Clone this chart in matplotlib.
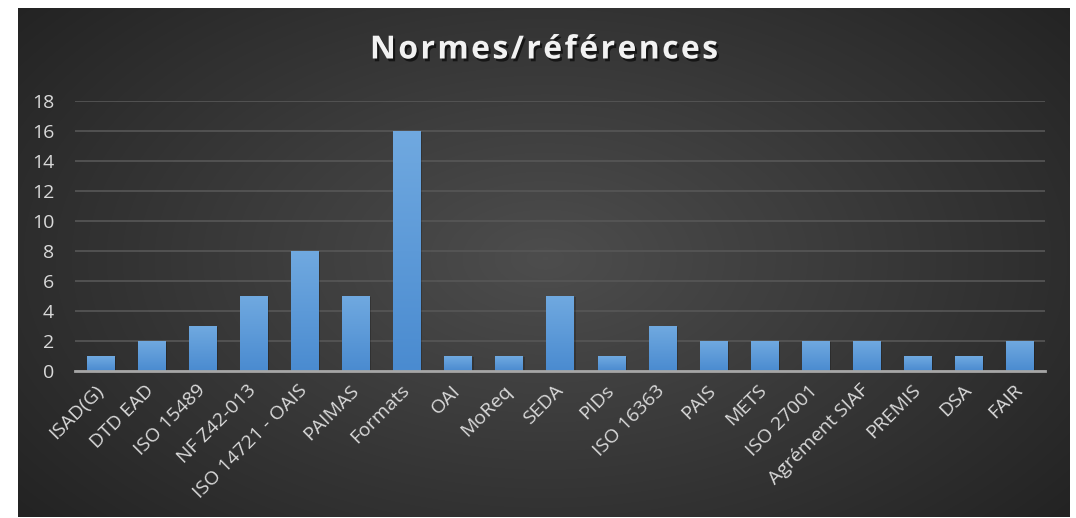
import numpy as np
import matplotlib
matplotlib.use("Agg")
import matplotlib.pyplot as plt
import matplotlib.patheffects as pe
from matplotlib.colors import LinearSegmentedColormap

# data
categories = [
    "ISAD(G)", "DTD EAD", "ISO 15489", "NF Z42-013", "ISO 14721 - OAIS",
    "PAIMAS", "Formats", "OAI", "MoReq", "SEDA", "PIDs", "ISO 16363",
    "PAIS", "METS", "ISO 27001", "Agrément SIAF", "PREMIS", "DSA", "FAIR",
]
counts = [1, 2, 3, 5, 8, 5, 16, 1, 1, 5, 1, 3, 2, 2, 2, 2, 1, 1, 2]
yticks = [0, 2, 4, 6, 8, 10, 12, 14, 16, 18]
title = "Normes/références"

W, H = 1076, 518
plt.rcParams["font.family"] = ["Open Sans", "DejaVu Sans"]

fig = plt.figure(figsize=(W / 100, H / 100), dpi=100)
fig.patch.set_facecolor("white")

# dark radial-gradient panel behind the chart
bg = fig.add_axes([18 / W, 1 - 517 / H, (1070 - 18) / W, (517 - 8) / H])
bg.set_axis_off()
gy, gx = np.mgrid[0:509, 0:1052]
cx, cy = 527, 250
r = np.sqrt(((gx - cx) / 560.0) ** 2 + ((gy - cy) / 330.0) ** 2)
r = np.clip(r / 1.45, 0, 1)
bg_cmap = LinearSegmentedColormap.from_list("bg", ["#4d4d4d", "#383838", "#232323"])
bg.imshow(r, cmap=bg_cmap, aspect="auto", interpolation="bilinear")

ax = fig.add_axes([75 / W, 1 - 371 / H, (1045 - 75) / W, (371 - 101) / H])
ax.patch.set_alpha(0)
x = np.arange(len(categories))
bars = ax.bar(x, counts, width=0.53, color="#5b9bd5", zorder=3)

# vertical gradient inside each bar, plus a soft shadow
bar_cmap = LinearSegmentedColormap.from_list("bar", ["#4a8bd0", "#70a9e0"])
grad = np.linspace(0, 1, 256).reshape(-1, 1)
for b in bars:
    x0, w, h = b.get_x(), b.get_width(), b.get_height()
    b.set_path_effects([pe.SimplePatchShadow(offset=(1.5, -0.5), shadow_rgbFace="black", alpha=0.2),
                        pe.Normal()])
    im = ax.imshow(grad, cmap=bar_cmap, origin="lower", aspect="auto",
                   extent=(x0, x0 + w, 0, h), zorder=4)
    im.set_clip_path(b)

ax.set_xlim(-0.5, len(categories) - 0.5)
ax.set_ylim(0, 18)
ax.set_yticks(yticks)
ax.set_xticks(x)
ax.set_xticklabels(categories, rotation=45, ha="right", va="center",
                   rotation_mode="anchor")
ax.tick_params(axis="both", length=0, colors="#d9d9d9", labelsize=14)
ax.tick_params(axis="y", pad=15)
ax.tick_params(axis="x", pad=12)
ax.grid(axis="y", color="#575757", linewidth=1.2, zorder=0)
for side in ["top", "right", "left"]:
    ax.spines[side].set_visible(False)
ax.spines["bottom"].set_color("#a6a6a6")
ax.spines["bottom"].set_linewidth(2)
ax.spines["bottom"].set_zorder(5)

# title with letter spacing, drawn char by char
renderer = fig.canvas.get_renderer()
shadow = [pe.SimplePatchShadow(offset=(1.5, -2), shadow_rgbFace="black", alpha=0.6), pe.Normal()]
spacing = 2.4
title_texts = []
for ch in title:
    t = fig.text(0, 1 - 50 / H, ch, ha="left", va="center", fontsize=23,
                 fontweight="bold", color="#f2f2f2", path_effects=shadow)
    title_texts.append(t)
widths = [t.get_window_extent(renderer).width for t in title_texts]
total = sum(widths) + spacing * (len(widths) - 1)
xpos = 544 - total / 2
for t, w in zip(title_texts, widths):
    t.set_x(xpos / W)
    xpos += w + spacing

fig.savefig("out.png", dpi=100)
